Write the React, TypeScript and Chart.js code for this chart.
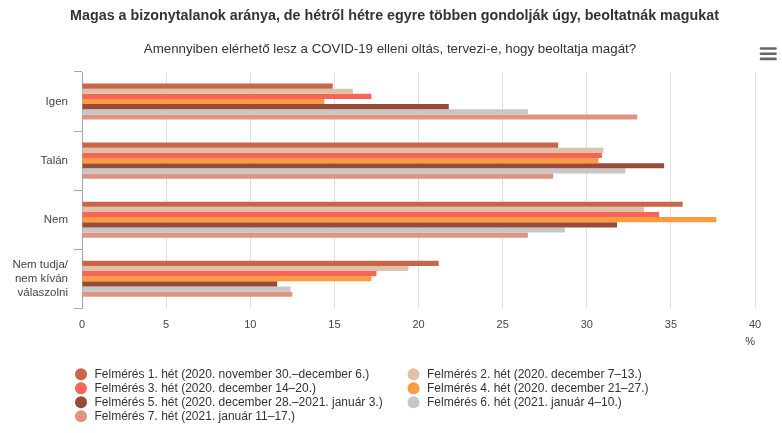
import React, { useEffect, useRef } from "react";
import { Chart, registerables } from "chart.js";

Chart.register(...registerables);

const categories: (string | string[])[] = ["Igen", "Talán", "Nem", ["Nem tudja/", "nem kíván", "válaszolni"]];

const seriesLabels = [
  "Felmérés 1. hét (2020. november 30.–december 6.)",
  "Felmérés 2. hét (2020. december 7–13.)",
  "Felmérés 3. hét (2020. december 14–20.)",
  "Felmérés 4. hét (2020. december 21–27.)",
  "Felmérés 5. hét (2020. december 28.–2021. január 3.)",
  "Felmérés 6. hét (2021. január 4–10.)",
  "Felmérés 7. hét (2021. január 11–17.)",
];

const week1 = [14.9, 28.3, 35.7, 21.2];
const week2 = [16.1, 31.0, 33.4, 19.4];
const week3 = [17.2, 30.9, 34.3, 17.5];
const week4 = [14.4, 30.7, 37.7, 17.2];
const week5 = [21.8, 34.6, 31.8, 11.6];
const week6 = [26.5, 32.3, 28.7, 12.4];
const week7 = [33.0, 28.0, 26.5, 12.5];

const seriesValues = [week1, week2, week3, week4, week5, week6, week7];

const seriesColors = ["#c8664a", "#dfc1a8", "#f86458", "#fd9b41", "#994b3a", "#c7c7c7", "#df9482"];

const xTicksMin = 0;
const xTicksMax = 40;
const xTickStep = 5;

const titleText = "Magas a bizonytalanok aránya, de hétről hétre egyre többen gondolják úgy, beoltatnák magukat";
const subtitleText = "Amennyiben elérhető lesz a COVID-19 elleni oltás, tervezi-e, hogy beoltatja magát?";
const unitLabel = "%";

const FONT = "'Liberation Sans', Arial, Helvetica, sans-serif";

const decorPlugin = {
  id: "decor",
  afterDraw(chart: any) {
    const ctx = chart.ctx as CanvasRenderingContext2D;
    ctx.save();
    // titles
    ctx.textAlign = "center";
    ctx.textBaseline = "middle";
    ctx.fillStyle = "#333333";
    ctx.font = `bold 14.3px ${FONT}`;
    ctx.fillText(titleText, 394.5, 16.5);
    ctx.font = `13.3px ${FONT}`;
    ctx.fillText(subtitleText, 390, 49.5);

    // legend
    const colX = [81, 413.5];
    const rowY0 = 374.3;
    const rowGap = 14;
    ctx.font = `12px ${FONT}`;
    ctx.textAlign = "left";
    chart.data.datasets.forEach((ds: any, i: number) => {
      const col = i % 2;
      const row = Math.floor(i / 2);
      const cx = colX[col];
      const cy = rowY0 + row * rowGap;
      ctx.beginPath();
      ctx.fillStyle = ds.backgroundColor;
      ctx.arc(cx, cy, 6, 0, Math.PI * 2);
      ctx.fill();
      ctx.fillStyle = "#333333";
      ctx.fillText(ds.label, cx + 13.5, cy + 0.5);
    });
    // menu icon
    ctx.strokeStyle = "#666666";
    ctx.lineWidth = 2.6;
    ctx.lineCap = "round";
    [48.5, 53.7, 58.9].forEach((y) => {
      ctx.beginPath();
      ctx.moveTo(761, y);
      ctx.lineTo(775.5, y);
      ctx.stroke();
    });
    ctx.restore();
  },
};

export default function App() {
  const canvasRef = useRef<HTMLCanvasElement | null>(null);

  useEffect(() => {
    if (!canvasRef.current) return;
    Chart.defaults.font.family = FONT;
    const chart = new Chart(canvasRef.current, {
      type: "bar",
      data: {
        labels: categories as any,
        datasets: seriesValues.map((vals, i) => ({
          label: seriesLabels[i],
          data: vals,
          backgroundColor: seriesColors[i],
          borderWidth: 0,
          categoryPercentage: 0.61,
          barPercentage: 1.0,
        })),
      },
      options: {
        indexAxis: "y",
        animation: false,
        responsive: true,
        maintainAspectRatio: false,
        layout: { padding: { left: 0, right: 27, top: 72, bottom: 84.3 } },
        plugins: {
          legend: { display: false },
          tooltip: { enabled: false },
          title: { display: false },
          subtitle: { display: false },
        },
        scales: {
          x: {
            type: "linear",
            min: xTicksMin,
            max: xTicksMax,
            ticks: {
              stepSize: xTickStep,
              color: "#444444",
              font: { size: 11, family: FONT, lineHeight: 1.2 },
              padding: 10,
            },
            grid: { color: "#e0e0e0", drawTicks: false, lineWidth: 1 },
            border: { display: false },
            title: {
              display: true,
              text: unitLabel,
              align: "end",
              color: "#444444",
              font: { size: 11, family: FONT, lineHeight: 1.2 },
              padding: { top: -6, bottom: 0 },
            },
          },
          y: {
            type: "category",
            ticks: {
              color: "#444444",
              font: { size: 11.5, family: FONT, lineHeight: 1.22 },
              padding: 6,
            },
            grid: {
              drawOnChartArea: false,
              drawTicks: true,
              tickLength: 8,
              color: "#a6a6a6",
              offset: true,
            },
            border: { display: true, color: "#a6a6a6", width: 1 },
            afterFit(scale: any) {
              scale.width = 82;
            },
          },
        },
      } as any,
      plugins: [decorPlugin],
    });
    return () => chart.destroy();
  }, []);

  return (
    <div style={{ position: "fixed", left: 0, top: 0, width: 782, height: 433, background: "#ffffff" }}>
      <canvas ref={canvasRef} />
    </div>
  );
}
